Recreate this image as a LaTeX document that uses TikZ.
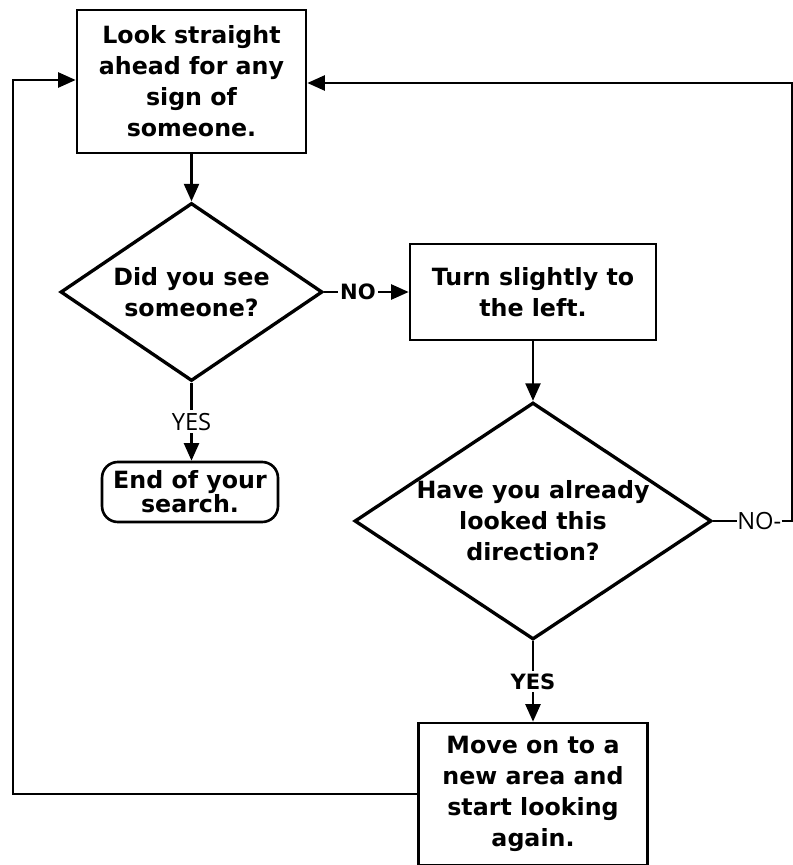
\documentclass[tikz,border=0pt]{standalone}
\usepackage{fontspec}
\setmainfont{DejaVu Sans}
\newfontfamily\thinlbl{Open Sans}
\usepackage{tikz}
\usetikzlibrary{arrows.meta,positioning,shapes.geometric}
\newcommand{\flowfont}{\bfseries\fontsize{13.5}{17.6}\selectfont}
\tikzset{
  stepbox/.style={rectangle, draw=black, line width=1.5pt, fill=white,
                  align=center, inner sep=0pt, font=\flowfont},
  decide/.style={diamond, draw=black, line width=1.9pt, fill=white,
                 align=center, inner sep=0pt, font=\flowfont},
  flow/.style={-{Triangle[length=10pt,width=8.5pt]}, line width=1.5pt},
  wire/.style={line width=1.5pt},
  lbl/.style={font=\thinlbl\fontsize{13.5}{15}\selectfont, fill=white,
              inner sep=1.5pt},
  lblb/.style={font=\bfseries\fontsize{12}{14}\selectfont, fill=white,
               inner sep=1.5pt},
}

\begin{document}
\begin{tikzpicture}[x=0.02cm, y=-0.02cm]
\useasboundingbox (0,0) rectangle (793,865);

% ---------------- start: look ahead --------------------------------------
\node[stepbox, minimum width=4.58cm, minimum height=2.86cm] at (191.5,81.5) (look)
   {Look straight\\ahead for any\\sign of\\someone.};

% ---------------- first question -----------------------------------------
\node[decide, shape aspect=1.47, minimum width=5.24cm, minimum height=3.56cm]
   at (191.5,292) (seen) {Did you see\\someone?};
\draw[flow] (look) -- (seen);

\node[stepbox, rounded corners=9pt, minimum width=3.52cm, minimum height=1.2cm]
   at (190,492) (done) {End of your\\[-4pt]search.};
\draw[flow] (seen.south) -- node[lbl] {YES} (done.north -| seen.south);

% ---------------- turn left ----------------------------------------------
\node[stepbox, minimum width=4.92cm, minimum height=1.92cm] at (533,292) (turn)
   {Turn slightly to\\the left.};
\draw[flow] (seen.east) -- node[lblb, pos=0.4] {NO} (turn.west);

% ---------------- second question ----------------------------------------
\node[decide, shape aspect=1.5, minimum width=7.14cm, minimum height=4.74cm]
   at (533,521) (again) {Have you already\\looked this\\direction?};
\draw[flow] (turn) -- (again);

\node[stepbox, minimum width=4.58cm, minimum height=2.84cm] at (533,794) (move)
   {Move on to a\\new area and\\start looking\\again.};
\draw[flow] (again.south) -- node[lblb] {YES} (move.north);

% ---------------- loops back to the top ----------------------------------
\node[lbl, inner sep=0pt, anchor=west] at (737,521) (no2) {NO-};
\coordinate (rtop) at (792,83);
\coordinate (ltop) at (13,80);
\draw[wire] (again.east) -- (no2.west);
\draw[flow] (no2.east) -| (rtop) -- (look.east |- rtop);
\draw[flow] (move.west) -| (ltop) -- (look.west |- ltop);
\end{tikzpicture}
\end{document}
